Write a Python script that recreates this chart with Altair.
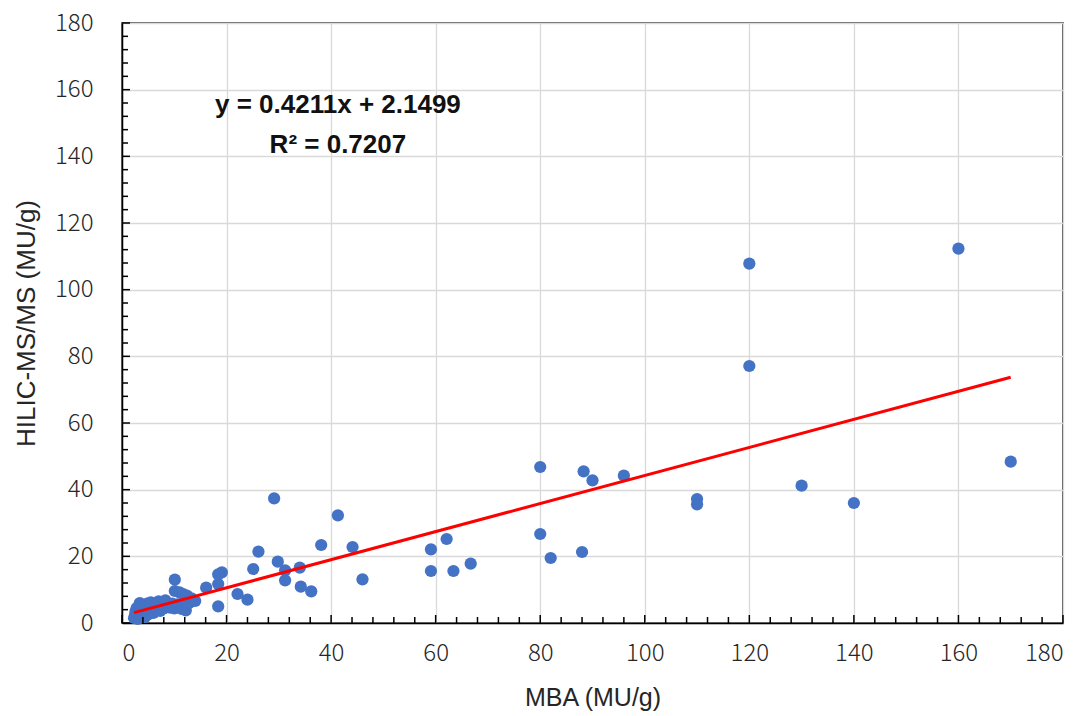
import altair as alt
import pandas as pd

# MBA vs HILIC-MS/MS measurements (MU/g)
mba = [
    160, 120, 120, 170, 130, 140, 110, 110, 96, 90, 88.3, 80, 80, 82, 88,
    66.7, 63.4, 62.1, 59.1, 59.1,
    46, 44.1, 41.3, 38.1, 36.2, 34.2, 34, 31.2, 31.2, 29.8, 29.1, 26.1, 25.1,
    24, 22.1, 19.1, 18.4, 18.4, 18.4, 16.1,
    2.3, 2.5, 2.6, 2.8, 3.0, 3.2, 3.4, 3.6, 3.8, 4.0, 4.2, 4.4, 4.6, 4.8, 5.0,
    5.2, 5.5, 5.8, 6.0, 6.3, 6.6, 7.0, 7.3, 7.6, 8.0, 8.3, 8.8, 9.2, 9.6,
    10.0, 10.1, 10.1, 10.6, 11.0, 11.4, 11.7, 12.2, 12.4, 12.6, 13.0, 13.3, 14.0,
]
hilic = [
    112.3, 107.8, 77.1, 48.4, 41.2, 36.0, 37.2, 35.6, 44.2, 42.8, 45.5, 46.8,
    26.7, 19.5, 21.3, 17.8, 15.6, 25.2, 22.1, 15.6,
    13.1, 22.8, 32.3, 23.4, 9.5, 10.9, 16.6, 15.8, 12.8, 18.4, 37.4, 21.4, 16.2,
    7.0, 8.7, 15.2, 14.6, 11.7, 5.0, 10.6,
    1.5, 2.5, 3.5, 4.5, 1.2, 2.8, 6.0, 3.8, 2.0, 5.0, 3.0, 1.8, 4.2, 5.8, 2.6,
    3.6, 6.2, 4.8, 3.0, 5.5, 4.0, 6.5, 3.6, 5.0, 4.4, 6.8, 5.2, 4.6, 5.8,
    4.4, 9.6, 13.0, 5.6, 9.2, 4.2, 8.7, 3.8, 8.2, 5.8, 6.2, 7.4, 6.6,
]

# Linear fit as reported
slope = 0.4211
intercept = 2.1499
r_squared = 0.7207

eq_lines = [f"y = {slope}x + {intercept}", f"R² = {r_squared}"]
eq_x = [41.3, 41.3]
eq_y = [155.3, 143.3]

major_ticks = list(range(0, 181, 20))
minor_ticks = [v for v in range(0, 181, 4) if v % 20 != 0]

pts = pd.DataFrame({"mba": mba, "hilic": hilic})
x_lo, x_hi = min(mba), max(mba)
fit = pd.DataFrame({"mba": [x_lo, x_hi],
                    "hilic": [slope * x_lo + intercept, slope * x_hi + intercept]})
eq = pd.DataFrame({"mba": eq_x, "hilic": eq_y, "label": eq_lines})
major = pd.DataFrame({"mba": major_ticks, "hilic": major_ticks})
minor = pd.DataFrame({"mba": minor_ticks, "hilic": minor_ticks})

W, H = 941, 600
xs = alt.Scale(domain=[0, 180], nice=False, zero=False)
ys = alt.Scale(domain=[0, 180], nice=False, zero=False)

axis_font = "Noto Sans CJK JP"
title_font = "Liberation Sans"

x_axis = alt.Axis(
    values=major_ticks, ticks=False, labelPadding=18, labelFontSize=24,
    labelFont=axis_font, labelFontWeight=300, labelColor="#262626",
    title="MBA (MU/g)",
    titleFont=title_font, titleFontSize=25, titleFontWeight="normal",
    titleColor="#262626", titleBaseline="alphabetic", titleY=82,
)
y_axis = alt.Axis(
    values=major_ticks, ticks=False, labelPadding=29, labelFontSize=24,
    labelFont=axis_font, labelFontWeight=300, labelColor="#262626",
    title="HILIC-MS/MS (MU/g)",
    titleFont=title_font, titleFontSize=26, titleFontWeight="normal",
    titleColor="#262626", titleBaseline="alphabetic", titleX=-88, titleAngle=-90,
)


def X():
    return alt.X("mba:Q", scale=xs, axis=x_axis, title="MBA (MU/g)")


def Y():
    return alt.Y("hilic:Q", scale=ys, axis=y_axis, title="HILIC-MS/MS (MU/g)")


points = alt.Chart(pts).mark_circle(size=150, color="#4472C4", opacity=1).encode(
    x=X(), y=Y(),
)

trend = alt.Chart(fit).mark_line(color="#FF0000", strokeWidth=3).encode(
    x=X(), y=Y(),
)

label = alt.Chart(eq).mark_text(
    font=title_font, fontSize=26, fontWeight="bold", color="#111111",
    align="center", baseline="middle",
).encode(
    x=X(), y=Y(), text="label:N",
)

# Inward-pointing tick marks on the bottom and left axes
tick_style = dict(color="#000000", strokeWidth=1.5)
x_major = alt.Chart(major).mark_rule(**tick_style).encode(
    x=X(), y=alt.value(H), y2=alt.value(H - 8))
x_minor = alt.Chart(minor).mark_rule(**tick_style).encode(
    x=X(), y=alt.value(H), y2=alt.value(H - 6))
y_major = alt.Chart(major).mark_rule(**tick_style).encode(
    y=Y(), x=alt.value(0), x2=alt.value(8))
y_minor = alt.Chart(minor).mark_rule(**tick_style).encode(
    y=Y(), x=alt.value(0), x2=alt.value(6))

chart = alt.layer(
    points, x_major, x_minor, y_major, y_minor, trend, label
).properties(
    width=W, height=H,
    autosize=alt.AutoSizeParams(type="none"),
    padding={"left": 122, "top": 23, "right": 27, "bottom": 93},
    background="white",
).configure_view(
    stroke="#262626", strokeWidth=1.5,
).configure_axis(
    domainColor="#000000", domainWidth=1.5,
    gridColor="#d9d9d9", gridWidth=1.3,
)

chart.save("out.html", embed_options={"renderer": "svg", "actions": False})
